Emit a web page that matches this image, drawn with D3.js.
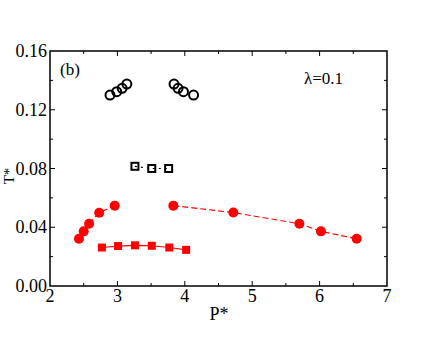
<!DOCTYPE html>
<html>
<head>
<meta charset="utf-8">
<script src="https://cdn.jsdelivr.net/npm/d3@7"></script>
<style>
  body { margin: 0; background: #fff; }
</style>
</head>
<body>
<svg id="chart" width="436" height="337"></svg>
<script>
// open circles (black)
const openCircLeft = [[2.89, 0.130], [2.99, 0.1323], [3.07, 0.1346], [3.14, 0.1375]];
const openCircRight = [[3.84, 0.1375], [3.90, 0.1346], [3.98, 0.1323], [4.13, 0.130]];
// open squares (black, dotted)
const openSq = [[3.26, 0.0815], [3.51, 0.080], [3.76, 0.080]];
// red circles (dashed)
const redCircLeft = [[2.43, 0.0322], [2.50, 0.0372], [2.58, 0.0424], [2.73, 0.0499], [2.96, 0.0547]];
const redCircRight = [[3.83, 0.0547], [4.72, 0.0500], [5.70, 0.0424], [6.02, 0.0372], [6.55, 0.0322]];
// red squares (solid)
const redSq = [[2.77, 0.0262], [3.01, 0.0272], [3.26, 0.0277], [3.51, 0.0274], [3.77, 0.0262], [4.02, 0.0246]];

const xTicks = [2, 3, 4, 5, 6, 7];
const yTicks = [0, 0.04, 0.08, 0.12, 0.16];
const xMinor = [2.5, 3.5, 4.5, 5.5, 6.5];
const yMinor = [0.02, 0.06, 0.10, 0.14];

const FONT = "'Liberation Serif'";
const svg = d3.select("#chart");
const mLeft = 50, mRight = 387, mTop = 51, mBottom = 286;

const x = d3.scaleLinear().domain([2, 7]).range([mLeft, mRight]);
const y = d3.scaleLinear().domain([0, 0.16]).range([mBottom, mTop]);

// frame
svg.append("rect")
    .attr("x", mLeft).attr("y", mTop)
    .attr("width", mRight - mLeft).attr("height", mBottom - mTop)
    .attr("fill", "none").attr("stroke", "#000").attr("stroke-width", 1.5);

// inward ticks on all four sides
function ticksX(g, vals, len) {
    vals.forEach(v => {
        g.append("line").attr("x1", x(v)).attr("x2", x(v)).attr("y1", mBottom).attr("y2", mBottom - len);
        g.append("line").attr("x1", x(v)).attr("x2", x(v)).attr("y1", mTop).attr("y2", mTop + len);
    });
}
function ticksY(g, vals, len) {
    vals.forEach(v => {
        g.append("line").attr("y1", y(v)).attr("y2", y(v)).attr("x1", mLeft).attr("x2", mLeft + len);
        g.append("line").attr("y1", y(v)).attr("y2", y(v)).attr("x1", mRight).attr("x2", mRight - len);
    });
}
const tg = svg.append("g").attr("stroke", "#000").attr("stroke-width", 1);
ticksX(tg, xTicks.slice(1, -1), 5);
ticksX(tg, xMinor, 3);
ticksY(tg, yTicks.slice(1, -1), 5);
ticksY(tg, yMinor, 3);

// tick labels
svg.append("g").selectAll("text").data(xTicks).join("text")
    .attr("x", d => x(d)).attr("y", 302)
    .attr("text-anchor", "middle").attr("font-size", 18)
    .style("font-family", FONT)
    .text(d => d);
svg.append("g").selectAll("text").data(yTicks).join("text")
    .attr("x", 47).attr("y", d => y(d) + 6)
    .attr("text-anchor", "end").attr("font-size", 18)
    .style("font-family", FONT)
    .text(d => d.toFixed(2));

// axis titles
svg.append("text").attr("x", 219).attr("y", 320)
    .attr("text-anchor", "middle").attr("font-size", 18)
    .style("font-family", FONT).text("P*");
svg.append("text").attr("transform", "translate(14,176) rotate(-90)")
    .attr("text-anchor", "middle").attr("font-size", 15)
    .style("font-family", FONT).text("T*");

svg.append("text").attr("x", 60).attr("y", 75).attr("font-size", 17)
    .style("font-family", FONT).text("(b)");
svg.append("text").attr("x", 304).attr("y", 84).attr("font-size", 17)
    .style("font-family", FONT).text("λ=0.1");

const line = d3.line().x(d => x(d[0])).y(d => y(d[1]));

function path(data, color, dash) {
    svg.append("path").datum(data).attr("d", line)
        .attr("fill", "none").attr("stroke", color).attr("stroke-width", 1.2)
        .attr("stroke-dasharray", dash);
}
path(openSq, "#000", "2,4");
path(redCircLeft, "red", "6,3");
path(redCircRight, "red", "6,3");
path(redSq, "red", null);

function circles(data, fill, stroke) {
    svg.append("g").selectAll("circle").data(data).join("circle")
        .attr("cx", d => x(d[0])).attr("cy", d => y(d[1])).attr("r", fill === "none" ? 4.5 : 5)
        .attr("fill", fill).attr("stroke", stroke).attr("stroke-width", fill === "none" ? 2 : 0);
}
function squares(data, fill, stroke, s) {
    svg.append("g").selectAll("rect").data(data).join("rect")
        .attr("x", d => x(d[0]) - s / 2).attr("y", d => y(d[1]) - s / 2)
        .attr("width", s).attr("height", s)
        .attr("fill", fill).attr("stroke", stroke).attr("stroke-width", fill === "none" ? 2 : 0);
}
circles(openCircLeft, "none", "#000");
circles(openCircRight, "none", "#000");
squares(openSq, "none", "#000", 7);
circles(redCircLeft, "red", "red");
circles(redCircRight, "red", "red");
squares(redSq, "red", "red", 8);
</script>
</body>
</html>
